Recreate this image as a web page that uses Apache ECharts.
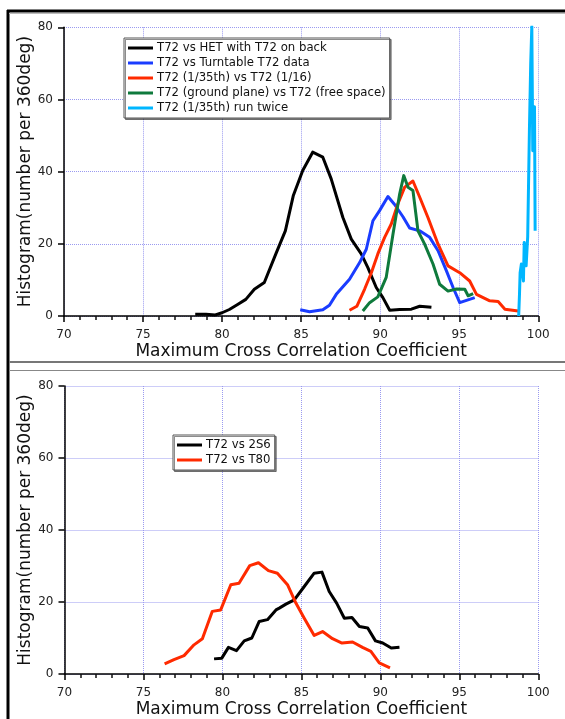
<!DOCTYPE html>
<html>
<head>
<meta charset="utf-8">
<script src="https://cdn.jsdelivr.net/npm/echarts@6/dist/echarts.min.js"></script>
<style>
  html, body { margin: 0; padding: 0; background: #fff; }
  #chart { width: 565px; height: 719px; }
</style>
</head>
<body>
<div id="chart"></div>
<script>
// ---- Upper panel: T72 comparisons ----
const hetX = [78.3, 78.98, 79.57, 80.0, 80.46, 80.98, 81.5, 82.04, 82.67, 83.4, 84.0, 84.5, 85.1, 85.73, 86.37, 86.9, 87.64, 88.17, 88.8, 89.22, 89.75, 90.17, 90.6, 91.23, 91.97, 92.5, 93.24];
const hetY = [0.5, 0.5, 0.3, 0.9, 1.8, 3.2, 4.6, 7.4, 9.3, 17.2, 23.6, 33.3, 40.3, 45.4, 44.0, 38.0, 27.3, 21.3, 17.2, 13.4, 7.9, 5.1, 1.6, 1.8, 1.9, 2.7, 2.4];

const turnX = [84.94, 85.53, 86.37, 86.79, 87.22, 88.06, 88.7, 89.12, 89.54, 89.96, 90.49, 90.91, 91.44, 91.86, 92.5, 93.13, 93.66, 94.19, 94.61, 95.03, 95.98];
const turnY = [1.75, 1.2, 1.75, 3.0, 6.0, 10.2, 14.8, 18.5, 26.4, 29.2, 33.1, 30.9, 27.5, 24.4, 23.6, 21.8, 18.1, 12.5, 7.9, 3.7, 5.1];

const scaleX = [88.06, 88.52, 89.01, 89.44, 89.85, 90.28, 90.7, 91.12, 91.55, 92.07, 92.5, 93.02, 93.66, 94.29, 95.03, 95.66, 96.09, 96.93, 97.46, 97.89, 98.73];
const scaleY = [1.6, 2.7, 7.4, 12.0, 17.2, 21.8, 25.5, 31.1, 35.7, 37.4, 32.9, 27.3, 19.9, 13.9, 12.0, 9.7, 6.0, 4.2, 4.0, 1.9, 1.4];

const groundX = [88.9, 89.33, 89.85, 90.38, 90.81, 91.23, 91.49, 91.76, 92.07, 92.39, 92.81, 93.34, 93.76, 94.29, 94.82, 95.35, 95.56, 95.88];
const groundY = [1.4, 3.7, 5.3, 10.7, 22.7, 33.8, 38.9, 35.7, 34.8, 23.6, 19.9, 14.4, 8.8, 6.9, 7.5, 7.4, 5.6, 6.2];

const twiceX = [98.76, 98.81, 98.85, 98.93, 99.06, 99.11, 99.23, 99.33, 99.44, 99.52, 99.59, 99.65, 99.71, 99.76, 99.8];
const twiceY = [0, 6, 12, 14.4, 9.7, 20.4, 13.9, 22, 52, 70, 80.3, 45.8, 54, 58, 23.6];

// ---- Lower panel: T72 against other vehicles ----
const s2s6X = [79.47, 79.96, 80.38, 80.89, 81.38, 81.86, 82.33, 82.85, 83.39, 83.6, 84.02, 84.55, 85.18, 85.81, 86.3, 86.76, 87.23, 87.72, 88.2, 88.67, 89.2, 89.69, 90.15, 90.69, 91.21];
const s2s6Y = [4.2, 4.4, 7.4, 6.5, 9.2, 10.0, 14.6, 15.1, 17.8, 18.3, 19.4, 20.6, 24.3, 28.0, 28.3, 22.9, 19.7, 15.5, 15.7, 13.2, 12.8, 9.2, 8.6, 7.2, 7.4];

const t80X = [76.34, 76.93, 77.57, 78.2, 78.73, 79.36, 79.89, 80.53, 81.05, 81.73, 82.28, 82.91, 83.48, 84.12, 84.65, 85.18, 85.81, 86.34, 86.97, 87.57, 88.24, 88.87, 89.4, 89.93, 90.61];
const t80Y = [2.8, 4.0, 5.1, 8.1, 9.8, 17.4, 17.8, 24.8, 25.2, 30.1, 30.9, 28.7, 28.0, 24.8, 19.7, 15.5, 10.7, 11.8, 9.8, 8.6, 8.9, 7.4, 6.3, 3.1, 1.7];

const xTicks = { min: 70, max: 100, step: 5 };
const yTicks = { min: 0, max: 80, step: 20 };

const topNames = [
  'T72 vs HET with T72 on back',
  'T72 vs Turntable T72 data',
  'T72 (1/35th) vs T72 (1/16)',
  'T72 (ground plane) vs T72 (free space)',
  'T72 (1/35th) run twice'
];
const bottomNames = ['T72 vs 2S6', 'T72 vs T80'];

const xTitle = 'Maximum Cross Correlation Coefficient';
const yTitle = 'Histogram(number per 360deg)';

function pairs(xs, ys) { return xs.map((x, i) => [x, ys[i]]); }

const FONT = 'DejaVu Sans';
const gridColor = '#9a9af0';

function xAxisFor(gridIndex) {
  return {
    type: 'value', gridIndex,
    min: xTicks.min, max: xTicks.max, interval: xTicks.step,
    name: xTitle, nameLocation: 'middle', nameGap: 27, nameMoveOverlap: false,
    nameTextStyle: { fontFamily: FONT, fontSize: 17, color: '#111' },
    axisLine: { show: true, onZero: false, lineStyle: { color: '#000', width: 1.5 } },
    axisTick: { show: true, inside: false, length: 6, lineStyle: { color: '#000', width: 1.5 } },
    minorTick: { show: true, splitNumber: 5, length: 4, lineStyle: { color: '#111', width: 1.5 } },
    axisLabel: { show: true, margin: 13, fontFamily: FONT, fontSize: 12, color: '#222' },
    splitLine: { show: true, showMinLine: true, showMaxLine: true, lineStyle: { color: gridColor, type: [1, 1], width: 1 } }
  };
}
function yAxisFor(gridIndex) {
  return {
    type: 'value', gridIndex,
    min: yTicks.min, max: yTicks.max, interval: yTicks.step,
    name: yTitle, nameLocation: 'middle', nameGap: 30, nameMoveOverlap: false,
    nameTextStyle: { fontFamily: FONT, fontSize: 17, color: '#111' },
    axisLine: { show: true, onZero: false, lineStyle: { color: '#000', width: 1.5 } },
    axisTick: { show: true, inside: false, length: 6, lineStyle: { color: '#000', width: 1.5 } },
    axisLabel: { show: true, margin: 11, fontFamily: FONT, fontSize: 12, color: '#222' },
    splitLine: { show: true, showMinLine: true, showMaxLine: true, lineStyle: { color: gridColor, type: [1, 1], width: 1 } }
  };
}

function lineSeries(name, data, color, idx) {
  return {
    name, type: 'line', data, xAxisIndex: idx, yAxisIndex: idx,
    showSymbol: false, symbol: 'none', silent: true, animation: false,
    lineStyle: { color, width: 3, join: 'round' }, itemStyle: { color }
  };
}

const legendBase = {
  orient: 'vertical', icon: 'rect', itemWidth: 25, itemHeight: 3, itemGap: 1,
  backgroundColor: '#fff', borderColor: '#555', borderWidth: 1,
  shadowColor: 'rgba(0,0,0,0.45)', shadowOffsetX: 1.5, shadowOffsetY: 1.5, shadowBlur: 0,
  textStyle: { fontFamily: FONT, fontSize: 11.7, color: '#111', lineHeight: 14, padding: [0, 0, 0, -1] },
  selectedMode: false
};

const chart = echarts.init(document.getElementById('chart'), null, { renderer: 'canvas' });
chart.setOption({
  animation: false,
  backgroundColor: '#fff',
  grid: [
    { left: 64, right: 26.7, top: 27.3, height: 288.7 },
    { left: 64.5, right: 26.7, top: 386, height: 289.3 }
  ],
  xAxis: [xAxisFor(0), xAxisFor(1)],
  yAxis: [yAxisFor(0), yAxisFor(1)],
  legend: [
    Object.assign({}, legendBase, { data: topNames, left: 124, top: 38, padding: [3, 4, 3, 4] }),
    Object.assign({}, legendBase, { data: bottomNames, left: 173, top: 435, padding: [3, 4, 3, 4] })
  ],
  series: [
    lineSeries(topNames[0], pairs(hetX, hetY), '#000000', 0),
    lineSeries(topNames[1], pairs(turnX, turnY), '#1a3cff', 0),
    lineSeries(topNames[2], pairs(scaleX, scaleY), '#ff2a00', 0),
    lineSeries(topNames[3], pairs(groundX, groundY), '#0f7a3c', 0),
    lineSeries(topNames[4], pairs(twiceX, twiceY), '#00b6ff', 0),
    lineSeries(bottomNames[0], pairs(s2s6X, s2s6Y), '#000000', 1),
    lineSeries(bottomNames[1], pairs(t80X, t80Y), '#ff2a00', 1)
  ],
  graphic: [
    // page frame and panel separators
    { type: 'line', shape: { x1: 8, y1: 10, x2: 8, y2: 719 }, style: { stroke: '#000', lineWidth: 3 }, silent: true },
    { type: 'line', shape: { x1: 7, y1: 11, x2: 565, y2: 11 }, style: { stroke: '#000', lineWidth: 3 }, silent: true },
    { type: 'line', shape: { x1: 9, y1: 13.5, x2: 565, y2: 13.5 }, style: { stroke: '#bbb', lineWidth: 1 }, silent: true },
    { type: 'line', shape: { x1: 9, y1: 362, x2: 565, y2: 362 }, style: { stroke: '#777', lineWidth: 2 }, silent: true },
    { type: 'line', shape: { x1: 9, y1: 370.5, x2: 565, y2: 370.5 }, style: { stroke: '#888', lineWidth: 1 }, silent: true }
  ]
});
</script>
</body>
</html>
